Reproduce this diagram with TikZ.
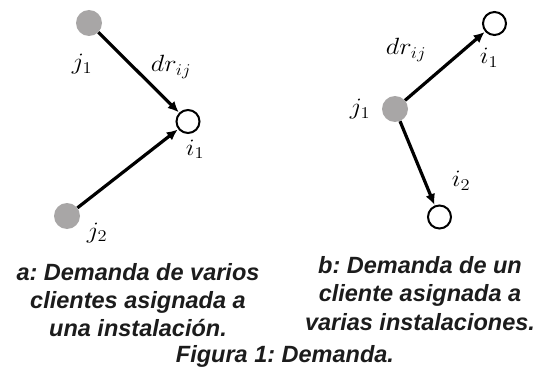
\documentclass[tikz,border=0pt]{standalone}
\usepackage{fix-cm}
\usepackage[no-math]{fontspec}
\setmainfont{Liberation Sans}
\usetikzlibrary{arrows.meta}
\definecolor{dotgray}{RGB}{168,166,166}
\definecolor{txt}{RGB}{28,28,28}
\newcommand{\mylab}[1]{\scalebox{1.12}[1]{$#1$}}
\frenchspacing
\tikzset{
  client/.style={circle,fill=dotgray,inner sep=0pt,minimum size=26pt},
  facility/.style={circle,draw=black,line width=2pt,fill=white,inner sep=0pt,minimum size=23pt},
  flow/.style={line width=3.2pt,-{Latex[length=11pt,width=10pt]},shorten >=0.5pt},
  lbl/.style={inner sep=0pt,anchor=base,font=\fontsize{23.5}{27}\selectfont},
  capt/.style={text=txt,inner sep=0pt,anchor=base,font=\fontsize{23.5}{28}\selectfont\bfseries\itshape\frenchspacing}
}
\begin{document}
\begin{tikzpicture}[x=1pt,y=-1pt]
\useasboundingbox (0,0) rectangle (547,369);
% left diagram
\node[client] (ja1) at (89,23) {};
\node[facility] (ia1) at (188,121.5) {};
\node[client] (ja2) at (67,216) {};
\draw[flow] (ja1) -- (ia1);
\draw[flow] (ja2) -- (ia1);
\node[lbl] (lja1) at (82,70) {\mylab{j_1}};
\node[lbl] (ldra) at (171,71.5) {\mylab{dr_{ij}}};
\node[lbl] (lia1) at (195,155) {\mylab{i_1}};
\node[lbl] (lja2) at (97,238) {\mylab{j_2}};
% right diagram
\node[facility] (ib1) at (494.5,23.5) {};
\node[client] (jb1) at (395,109) {};
\node[facility] (ib2) at (439.5,217) {};
\draw[flow] (jb1) -- (ib1);
\draw[flow] (jb1) -- (ib2);
\node[lbl] (ldrb) at (406,55) {\mylab{dr_{ij}}};
\node[lbl] (lib1) at (489,63.5) {\mylab{i_1}};
\node[lbl] (ljb1) at (360,115) {\mylab{j_1}};
\node[lbl] (lib2) at (461,186.5) {\mylab{i_2}};
% captions
\node[capt] (capa1) at (138,280) {a: Demanda de varios};
\node[capt] (capa2) at (138,308.3) {clientes asignada a};
\node[capt] (capa3) at (138,336) {una instalación.};
\node[capt] (capb1) at (420,273.3) {b: Demanda de un};
\node[capt] (capb2) at (420,301.7) {cliente asignada a};
\node[capt] (capb3) at (420,330) {varias instalaciones.};
\node[capt] (capf) at (285,362.5) {Figura 1: Demanda.};
\end{tikzpicture}
\end{document}
